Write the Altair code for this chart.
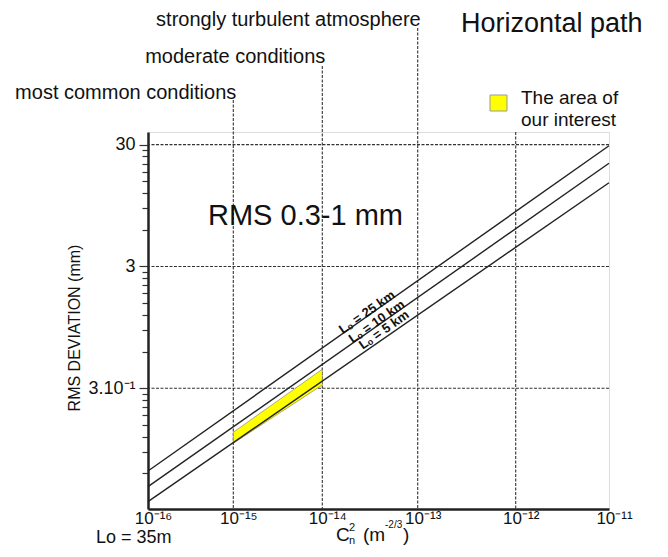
import altair as alt
import pandas as pd

# ---------------- data ----------------
series = ["25 km", "10 km", "5 km"]
x_ends = [-16, -11]                      # log10(Cn^2) at line ends
rms_25 = [0.0628, 29.4]
rms_10 = [0.0467, 21.1]
rms_5 = [0.0352, 14.6]

area_x = [-15, -14]
area_low = [0.106, 0.319]
area_high = [0.1306, 0.4296]

x_ticks = [-16, -15, -14, -13, -12, -11]
x_tick_labels = ["10⁻¹⁶", "10⁻¹⁵", "10⁻¹⁴", "10⁻¹³", "10⁻¹²", "10⁻¹¹"]
x_grid = [-15, -14, -13, -12]

y_grid = [30, 3, 0.3]
y_grid_labels = ["30", "3", "3.10⁻¹"]
y_minor = [0.06, 0.09, 0.12, 0.15, 0.18, 0.21, 0.24, 0.27,
           0.6, 0.9, 1.2, 1.5, 1.8, 2.1, 2.4, 2.7,
           6, 9, 12, 15, 18, 21, 24, 27]

conditions = ["most common conditions", "moderate conditions", "strongly turbulent atmosphere"]
condition_x = [-15, -14, -13]

line_labels = ["Lₒ =   25 km", "Lₒ =   10 km", "Lₒ =   5 km"]

# ---------------- layout ----------------
W, H = 461, 377
FONT = "Liberation Sans"
x_range = [0, 85.3, 174.3, 269.7, 367.7, 461]
xscale = alt.Scale(type="linear", domain=x_ticks, range=x_range, nice=False, zero=False)
yscale = alt.Scale(type="log", domain=[0.0306, 38.1], nice=False)

rows = []
for s, vals in zip(series, [rms_25, rms_10, rms_5]):
    for xv, yv in zip(x_ends, vals):
        rows.append({"series": s, "x": xv, "y": yv})
lines_df = pd.DataFrame(rows)
area_df = pd.DataFrame({"x": area_x, "lo": area_low, "hi": area_high})
ygrid_df = pd.DataFrame({"y": y_grid})

label_expr_y = " : ".join(
    f"datum.value == {v} ? '{t}'" for v, t in zip(y_grid, y_grid_labels)) + " : ''"
label_expr_x = "[" + ",".join(f"'{t}'" for t in x_tick_labels) + "][round(datum.value) + 16]"
major_test = " || ".join(f"datum.value == {v}" for v in y_grid)

X_AXIS = alt.Axis(
    values=x_ticks, labelExpr=label_expr_x, ticks=False, grid=False, title="",
    labelFontSize=17, labelFont=FONT, labelPadding=1, labelFlush=False, labelOffset=5,
    labelOverlap=False, labelColor="#111", domainColor="#222", domainWidth=2.5)
Y_AXIS = alt.Axis(
    values=sorted(y_grid + y_minor), labelExpr=label_expr_y, grid=False, title="",
    tickSize={"condition": {"test": major_test, "value": 9}, "value": 6},
    tickColor="#333", tickWidth=1.2, labelFontSize=18, labelFont=FONT,
    labelPadding=4, labelOverlap=False, labelColor="#111",
    domainColor="#222", domainWidth=2.5)

def xenc(field):
    return alt.X(field, scale=xscale, axis=X_AXIS, title="")

def yenc(field):
    return alt.Y(field, scale=yscale, axis=Y_AXIS, title="")

grid_color = "#333"
hgrid = alt.Chart(ygrid_df).mark_rule(color=grid_color, strokeDash=[3, 1.5], strokeWidth=1.1).encode(
    y=yenc("y:Q"))

vgrid_tops = [-32, -66, -104, 0]
vgrids = []
for xv, top in zip(x_grid, vgrid_tops):
    vgrids.append(
        alt.Chart(pd.DataFrame({"x": [xv]})).mark_rule(color=grid_color, strokeDash=[3, 1.5], strokeWidth=1.1).encode(
            x=xenc("x:Q"), y=alt.value(top), y2=alt.value(H)))

area = alt.Chart(area_df).mark_area(color="#ffff00", stroke="#777", strokeWidth=0.6).encode(
    x=xenc("x:Q"), y=yenc("lo:Q"), y2="hi:Q")

lines = alt.Chart(lines_df).mark_line(color="#222", strokeWidth=1.4).encode(
    x=xenc("x:Q"), y=yenc("y:Q"), detail="series:N")

texts = []
cond_y = [-39, -75, -112]
for t, xv, yy in zip(conditions, condition_x, cond_y):
    texts.append(alt.Chart(pd.DataFrame({"x": [xv], "t": [t]})).mark_text(
        align="right", baseline="middle", fontSize=20, font=FONT, dx=3, color="#111").encode(
        x=xenc("x:Q"), y=alt.value(yy), text="t:N"))

def ptext(txt, x, y, size, align="left", angle=0, weight="normal", baseline="middle"):
    kw = dict(align=align, baseline=baseline, fontSize=size, font=FONT, color="#111", fontWeight=weight)
    if angle:
        kw["angle"] = angle
    return alt.Chart(pd.DataFrame({"t": [txt]})).mark_text(**kw).encode(
        x=alt.value(x), y=alt.value(y), text="t:N")

line_label_pos = [(219, 180.3), (228.7, 189.7), (236, 198)]
for lab, (lx, ly) in zip(line_labels, line_label_pos):
    texts.append(ptext(lab, lx, ly, 13, align="center", angle=325, weight="bold"))

texts += [
    ptext("Horizontal path", 313, -108, 27),
    ptext("The area of", 373, -34, 19),
    ptext("our interest", 373, -12, 19),
    ptext("RMS 0.3-1 mm", 60, 84, 29),
    ptext("Lo = 35m", -52, 406, 18),
    ptext("C", 188, 403, 19),
    ptext("n", 201, 409, 11),
    ptext("2", 201, 396, 11),
    ptext("(m", 215, 403, 19),
    ptext("-2/3", 237, 393, 10),
    ptext(")", 255, 403, 19),
    ptext("RMS DEVIATION (mm)", -73, 196, 16, align="center", angle=270),
]

legend_box = alt.Chart(pd.DataFrame({"a": [0]})).mark_rect(
    fill="#ffff00", stroke="#999", strokeWidth=1).encode(
    x=alt.value(342), x2=alt.value(359), y=alt.value(-37), y2=alt.value(-21))

chart = alt.layer(hgrid, *vgrids, area, lines, legend_box, *texts).properties(
    width=W, height=H,
    autosize=alt.AutoSizeParams(type="none"),
    padding={"left": 140, "top": 124, "right": 51, "bottom": 40},
).configure_view(stroke="#222", strokeWidth=2).configure(background="white")

chart.save("out.html", embed_options={"renderer": "svg", "actions": False})
